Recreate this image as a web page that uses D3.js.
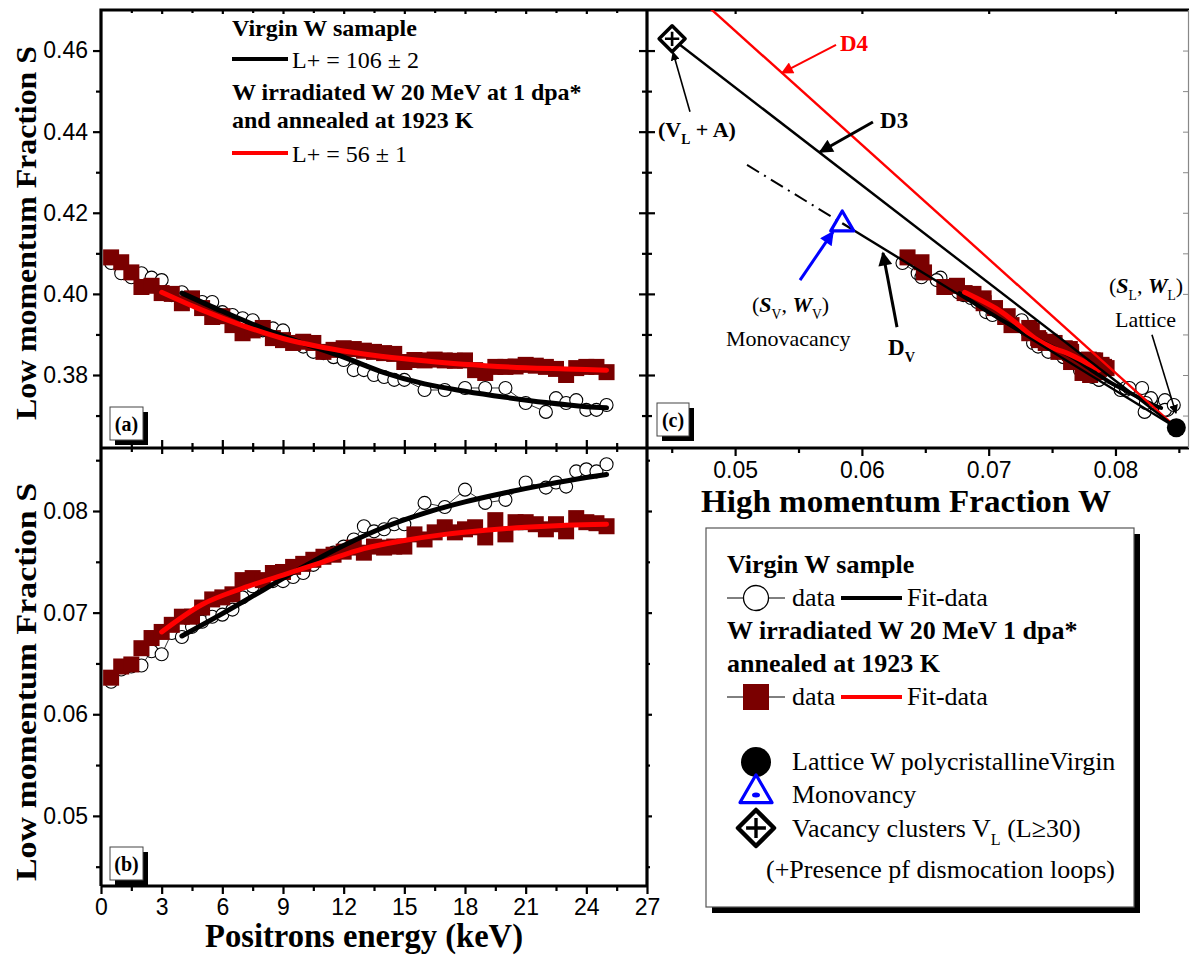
<!DOCTYPE html>
<html><head><meta charset="utf-8">
<script src="https://cdn.jsdelivr.net/npm/d3@7"></script>
<style>
body{margin:0;background:#fff}
svg{display:block}
</style></head>
<body><svg id="chart" width="1190" height="958"></svg>
<script>
// ---------------- DATA ----------------
const energyVirgin = [0.5,1,1.5,2,2.5,3,3.5,4,4.5,5,5.5,6,6.5,7,7.5,8,8.5,9,9.5,10,10.5,11,11.5,12,12.5,13,13.5,14,14.5,15,16,17,18,19,20,21,22,22.5,23,23.5,24,24.5,25];
const sVirgin = [0.4076,0.4051,0.4041,0.4051,0.4040,0.4034,0.3997,0.4004,0.3990,0.3980,0.3980,0.3955,0.3948,0.3940,0.3935,0.3910,0.3915,0.3910,0.3879,0.3870,0.3857,0.3854,0.3844,0.3837,0.3812,0.3812,0.3800,0.3795,0.3788,0.3788,0.3763,0.3763,0.3768,0.3768,0.3768,0.3731,0.3709,0.3743,0.3731,0.3738,0.3714,0.3714,0.3726];
const wVirgin = [0.0632,0.0644,0.0647,0.0648,0.0662,0.0659,0.0680,0.0676,0.0686,0.0691,0.0696,0.0698,0.0703,0.0715,0.0726,0.0730,0.0731,0.0731,0.0735,0.0739,0.0747,0.0755,0.0759,0.0765,0.0772,0.0785,0.0780,0.0782,0.0787,0.0787,0.0808,0.0804,0.0821,0.0808,0.0811,0.0828,0.0823,0.0828,0.0824,0.0839,0.0841,0.0839,0.0846];

const energyIrr = [0.5,1,1.5,2,2.5,3,3.5,4,4.5,5,5.5,6,6.5,7,7.5,8,8.5,9,9.5,10,10.5,11,11.5,12,12.5,13,13.5,14,14.5,15,15.5,16,16.5,17,17.5,18,18.5,19,19.5,20,20.5,21,21.5,22,22.5,23,23.5,24,24.5,25];
const sIrr = [0.4090,0.4078,0.4053,0.4017,0.4020,0.4002,0.4000,0.3977,0.3989,0.3965,0.3943,0.3945,0.3923,0.3903,0.3910,0.3916,0.3891,0.3886,0.3879,0.3882,0.3879,0.3857,0.3862,0.3866,0.3864,0.3860,0.3857,0.3854,0.3852,0.3832,0.3837,0.3836,0.3838,0.3836,0.3835,0.3836,0.3812,0.3805,0.3820,0.3820,0.3821,0.3825,0.3823,0.3820,0.3815,0.3800,0.3817,0.3820,0.3820,0.3807];
const wIrr = [0.0636,0.0647,0.0649,0.0665,0.0675,0.0681,0.0688,0.0696,0.0696,0.0705,0.0713,0.0715,0.0718,0.0732,0.0734,0.0732,0.0739,0.0740,0.0745,0.0748,0.0752,0.0755,0.0757,0.0760,0.0764,0.0759,0.0765,0.0764,0.0765,0.0765,0.0777,0.0772,0.0779,0.0784,0.0779,0.0782,0.0784,0.0774,0.0791,0.0777,0.0789,0.0789,0.0787,0.0782,0.0787,0.0780,0.0793,0.0789,0.0788,0.0785];

const fitEVirgin = [4,6,8,10,12,14,16,18,20,22,24,25];
const fitSVirgin = [0.4002,0.3957,0.3915,0.3878,0.3844,0.3806,0.3778,0.3760,0.3745,0.3732,0.3722,0.3719];
const fitWVirgin = [0.0677,0.0699,0.0722,0.0745,0.0766,0.0784,0.0798,0.0809,0.0818,0.0826,0.0833,0.0836];
const fitEIrr = [3,5,7,9,11,13,15,17,19,21,23,25];
const fitSIrr = [0.4004,0.3960,0.3922,0.3890,0.3868,0.3852,0.3840,0.3830,0.3823,0.3818,0.3815,0.3812];
const fitWIrr = [0.0681,0.0708,0.0724,0.0737,0.0750,0.0763,0.0771,0.0777,0.0781,0.0784,0.0786,0.0787];

// reference states in the S-W plane [W, S]
const latticePoint = [0.0848, 0.3670];
const monovacancyPoint = [0.05845, 0.4174];
const clusterPoint = [0.04503, 0.4629];
const d4FarPoint = [0.0480, 0.4705];
const dvExtensionPoint = [0.05094, 0.4318];

// ticks
const energyTicks = [0,3,6,9,12,15,18,21,24,27];
const energyMinor = [1.5,4.5,7.5,10.5,13.5,16.5,19.5,22.5,25.5];
const sTicks = [0.38,0.40,0.42,0.44,0.46];
const sMinor = [0.37,0.39,0.41,0.43,0.45];
const wTicksB = [0.05,0.06,0.07,0.08];
const wMinorB = [0.045,0.055,0.065,0.075,0.085];
const wTicksC = [0.05,0.06,0.07,0.08];
const wMinorC = [0.045,0.055,0.065,0.075,0.085];

// ---------------- LAYOUT ----------------
const serif = "'Liberation Serif','Times New Roman',serif";
const sans = "'Liberation Sans',Arial,sans-serif";
const L = 101, M = 647, R = 1189, T = 10, MID = 448, B = 886;
const darkRed = "#7a0000";

const svg = d3.select("#chart");
const xE = d3.scaleLinear([0,27],[L,M]);
const yA = d3.scaleLinear([0.362,0.47],[MID,T]);
const yB = d3.scaleLinear([0.0431,0.0862],[B,MID]);
const xW = d3.scaleLinear([0.04305,0.0858],[M,R]);
const yC = yA;

// clip paths
const defs = svg.append("defs");
function clip(id,x,y,w,h){defs.append("clipPath").attr("id",id).append("rect").attr("x",x).attr("y",y).attr("width",w).attr("height",h);}
clip("clipA",L,T,M-L,MID-T);
clip("clipB",L,MID,M-L,B-MID);
clip("clipC",M,T,R-M,MID-T);
function mk(id,color,w,h){
  defs.append("marker").attr("id",id).attr("viewBox","0 0 10 10").attr("refX",9).attr("refY",5)
    .attr("markerWidth",w).attr("markerHeight",h).attr("markerUnits","userSpaceOnUse").attr("orient","auto")
    .append("path").attr("d","M0,0 L10,5 L0,10 z").attr("fill",color);
}
mk("arrK","#000",9,9); mk("arrKbig","#000",16,14); mk("arrR","#f00",14,12); mk("arrB","#00f",16,14);

// ---------------- AXES ----------------
function axis(gen, tx, ty, values, size, fmt, pad){
  const g = svg.append("g").attr("transform",`translate(${tx},${ty})`)
    .call(gen.tickValues(values).tickSize(size).tickSizeOuter(0).tickPadding(pad||4).tickFormat(fmt||(()=>"")));
  g.select(".domain").remove();
  g.selectAll("line").attr("stroke","#000").attr("stroke-width",2.2);
  g.attr("font-family",sans).attr("font-size",23).selectAll("text").attr("fill","#000");
  return g;
}
const f2 = d3.format(".2f"), fE = d3.format("d");
const innerE = energyTicks.filter(d=>d>0&&d<27);
// panel (a)
axis(d3.axisLeft(yA),L,0,sTicks,8,f2,5);
axis(d3.axisLeft(yA),L,0,sMinor,5);
axis(d3.axisBottom(xE),0,MID,innerE,-8);
axis(d3.axisBottom(xE),0,MID,innerE,6);
axis(d3.axisBottom(xE),0,MID,energyMinor,-5);
axis(d3.axisBottom(xE),0,MID,energyMinor,4);
axis(d3.axisTop(xE),0,T,innerE,-4);
axis(d3.axisTop(xE),0,T,energyMinor,-3);
// shared vertical line between (a) and (c)
axis(d3.axisLeft(yA),M,0,sTicks,8);
axis(d3.axisLeft(yA),M,0,sTicks,-8);
axis(d3.axisLeft(yA),M,0,sMinor,5);
axis(d3.axisLeft(yA),M,0,sMinor,-5);
// panel (b)
axis(d3.axisLeft(yB),L,0,wTicksB,8,f2,5);
axis(d3.axisLeft(yB),L,0,wMinorB,5);
axis(d3.axisBottom(xE),0,B,energyTicks,8,fE,5);
axis(d3.axisBottom(xE),0,B,energyMinor,5);
axis(d3.axisRight(yB),M,0,wTicksB,5);
axis(d3.axisRight(yB),M,0,wMinorB,3);
// panel (c)
axis(d3.axisBottom(xW),0,MID,wTicksC,8,f2,6);
axis(d3.axisBottom(xW),0,MID,wMinorC,5);
axis(d3.axisTop(xW),0,T,wTicksC,-4);
const rTicks = axis(d3.axisLeft(yA),R,0,sTicks.concat(sMinor),6);
rTicks.selectAll("line").attr("stroke","#888").attr("stroke-width",1);

// frames
const frame = svg.append("g").attr("fill","none").attr("stroke","#000").attr("stroke-width",3.2);
frame.append("path").attr("d",`M${L},${B} V${T} H${R}`);
frame.append("path").attr("d",`M${L},${MID} H${R}`);
frame.append("path").attr("d",`M${M},${T} V${B}`);
frame.append("path").attr("d",`M${L},${B} H${M}`);
svg.append("path").attr("d",`M${R-0.5},${T} V${MID}`).attr("stroke","#888").attr("stroke-width",1.2);

// ---------------- MARKS ----------------
const virgin = energyVirgin.map((e,i)=>({e, s:sVirgin[i], w:wVirgin[i]}));
const irr = energyIrr.map((e,i)=>({e, s:sIrr[i], w:wIrr[i]}));
const fitV = fitEVirgin.map((e,i)=>({e, s:fitSVirgin[i], w:fitWVirgin[i]}));
const fitI = fitEIrr.map((e,i)=>({e, s:fitSIrr[i], w:fitWIrr[i]}));

function drawPanel(clipId, xf, yf){
  const g = svg.append("g").attr("clip-path",`url(#${clipId})`);
  const connect = d3.line().x(xf).y(yf);
  g.append("path").attr("d",connect(virgin)).attr("fill","none").attr("stroke","#000").attr("stroke-width",0.8);
  g.selectAll("circle.v").data(virgin).join("circle").attr("class","v")
    .attr("cx",xf).attr("cy",yf).attr("r",6.5).attr("fill","#fff").attr("stroke","#000").attr("stroke-width",1.1);
  g.selectAll("rect.i").data(irr).join("rect").attr("class","i")
    .attr("x",d=>xf(d)-8).attr("y",d=>yf(d)-8).attr("width",16).attr("height",16).attr("fill",darkRed);
  return g;
}
// (a)
const gA = drawPanel("clipA", d=>xE(d.e), d=>yA(d.s));
const lineA = d3.line().x(d=>xE(d.e)).y(d=>yA(d.s)).curve(d3.curveMonotoneX);
gA.append("path").attr("d",lineA(fitV)).attr("fill","none").attr("stroke","#000").attr("stroke-width",5).attr("stroke-linecap","round");
gA.append("path").attr("d",lineA(fitI)).attr("fill","none").attr("stroke","#f00").attr("stroke-width",5).attr("stroke-linecap","round");
// (b)
const gB = drawPanel("clipB", d=>xE(d.e), d=>yB(d.w));
const lineB = d3.line().x(d=>xE(d.e)).y(d=>yB(d.w)).curve(d3.curveMonotoneX);
gB.append("path").attr("d",lineB(fitV)).attr("fill","none").attr("stroke","#000").attr("stroke-width",5).attr("stroke-linecap","round");
gB.append("path").attr("d",lineB(fitI)).attr("fill","none").attr("stroke","#f00").attr("stroke-width",5).attr("stroke-linecap","round");
// (c)
const gC = drawPanel("clipC", d=>xW(d.w), d=>yC(d.s));
const lineC = d3.line().x(d=>xW(d.w)).y(d=>yC(d.s)).curve(d3.curveCatmullRom);
gC.append("path").attr("d",lineC(fitV)).attr("fill","none").attr("stroke","#000").attr("stroke-width",4).attr("stroke-linecap","round");
gC.append("path").attr("d",lineC(fitI)).attr("fill","none").attr("stroke","#f00").attr("stroke-width",5).attr("stroke-linecap","round");
const seg = (a,b)=>`M${xW(a[0])},${yC(a[1])} L${xW(b[0])},${yC(b[1])}`;
gC.append("path").attr("d",seg(d4FarPoint,latticePoint)).attr("stroke","#f00").attr("stroke-width",2.4);
gC.append("path").attr("d",seg(clusterPoint,latticePoint)).attr("stroke","#000").attr("stroke-width",2.4);
gC.append("path").attr("d",seg(monovacancyPoint,latticePoint)).attr("stroke","#000").attr("stroke-width",2.4);
gC.append("path").attr("d",seg(dvExtensionPoint,monovacancyPoint)).attr("stroke","#000").attr("stroke-width",2)
  .attr("stroke-dasharray","14,6,2,6");

// special markers
function latticeMarker(g,x,y,r){ g.append("circle").attr("cx",x).attr("cy",y).attr("r",r).attr("fill","#000"); }
function triMarker(g,x,y,s){
  const h = s*0.866;
  g.append("path").attr("d",`M${x},${y-h*0.62} L${x+s/2},${y+h*0.38} L${x-s/2},${y+h*0.38} Z`)
   .attr("fill","none").attr("stroke","#00f").attr("stroke-width",3.2).attr("stroke-linejoin","round");
}
function diamondMarker(g,x,y,s,sw){
  const r=s/2;
  g.append("path").attr("d",`M${x},${y-r} L${x+r},${y} L${x},${y+r} L${x-r},${y} Z`).attr("fill","#fff").attr("stroke","#000").attr("stroke-width",sw).attr("stroke-linejoin","round");
  g.append("path").attr("d",`M${x},${y-r*0.55} V${y+r*0.55} M${x-r*0.55},${y} H${x+r*0.55}`).attr("stroke","#000").attr("stroke-width",sw*0.75);
}
const gM = svg.append("g");
latticeMarker(gM,xW(latticePoint[0]),yC(latticePoint[1]),9.5);
triMarker(gM,xW(monovacancyPoint[0]),yC(monovacancyPoint[1]),23);
diamondMarker(gM,xW(clusterPoint[0]),yC(clusterPoint[1]),26,3.5);

// ---------------- TEXT ----------------
function rich(g,x,y,parts,opts){
  const t = g.append("text").attr("x",x).attr("y",y).attr("font-family",serif).attr("font-size",opts.size).attr("fill",opts.fill||"#000")
    .attr("font-weight",opts.bold?"bold":"normal");
  let shift=0;
  parts.forEach(p=>{
    const o = (typeof p==="string")?{t:p}:p;
    const sp = t.append("tspan").text(o.t);
    const target = o.sub ? opts.size*0.3 : 0;
    if(target!==shift){ sp.attr("dy",target-shift); shift=target; }
    if(o.sub) sp.attr("font-size",opts.size*0.62);
    if(o.italic) sp.attr("font-style","italic");
    if(o.bold!==undefined) sp.attr("font-weight",o.bold?"bold":"normal");
  });
  return t;
}
const gt = svg.append("g");
// panel (a) legend
rich(gt,232,36,["Virgin W samaple"],{size:24,bold:true});
gt.append("line").attr("x1",232).attr("x2",288).attr("y1",59).attr("y2",59).attr("stroke","#000").attr("stroke-width",4);
rich(gt,292,68,["L+ = 106 ± 2"],{size:24});
rich(gt,232,100,["W irradiated W 20 MeV at 1 dpa*"],{size:24,bold:true});
rich(gt,232,128,["and annealed at 1923 K"],{size:24,bold:true});
gt.append("line").attr("x1",232).attr("x2",288).attr("y1",153).attr("y2",153).attr("stroke","#f00").attr("stroke-width",4);
rich(gt,292,162,["L+ = 56 ± 1"],{size:24});

// panel boxes
function panelBox(x,y,w,h,label){
  gt.append("rect").attr("x",x+5).attr("y",y+5).attr("width",w).attr("height",h).attr("fill","#000");
  gt.append("rect").attr("x",x).attr("y",y).attr("width",w).attr("height",h).attr("fill","#fff").attr("stroke","#444").attr("stroke-width",1);
  rich(gt,x+w/2,y+h/2+7,[label],{size:20,bold:true}).attr("text-anchor","middle");
}
panelBox(110,407,33,33,"(a)");
panelBox(110,847,33,33,"(b)");
panelBox(657,403,32,33,"(c)");

// axis titles
gt.append("text").attr("transform",`translate(36,233) rotate(-90)`).attr("text-anchor","middle")
  .attr("font-family",serif).attr("font-weight","bold").attr("font-size",30)
  .attr("textLength",374).attr("lengthAdjust","spacingAndGlyphs").text("Low momentum Fraction S");
gt.append("text").attr("transform",`translate(36,682) rotate(-90)`).attr("text-anchor","middle")
  .attr("font-family",serif).attr("font-weight","bold").attr("font-size",30)
  .attr("textLength",398).attr("lengthAdjust","spacingAndGlyphs").text("Low momentum Fraction S");
gt.append("text").attr("x",364).attr("y",947).attr("text-anchor","middle")
  .attr("font-family",serif).attr("font-weight","bold").attr("font-size",33)
  .attr("textLength",318).attr("lengthAdjust","spacingAndGlyphs").text("Positrons energy (keV)");
gt.append("text").attr("x",906).attr("y",512).attr("text-anchor","middle")
  .attr("font-family",serif).attr("font-weight","bold").attr("font-size",32)
  .attr("textLength",410).attr("lengthAdjust","spacingAndGlyphs").text("High momentum Fraction W");

// annotations in (c) — anchored in the S-W data space
const P = (w,s)=>[xW(w),yC(s)];
function arrow(a,b,color,width,marker){
  gt.append("line").attr("x1",a[0]).attr("y1",a[1]).attr("x2",b[0]).attr("y2",b[1])
    .attr("stroke",color).attr("stroke-width",width).attr("marker-end",`url(#${marker})`);
}
let p;
p=P(0.05827,0.4599); rich(gt,p[0],p[1],["D4"],{size:23,bold:true,fill:"#f00"});
arrow(P(0.05796,0.4614),P(0.05370,0.4545),"#f00",2,"arrR");
p=P(0.06143,0.4409); rich(gt,p[0],p[1],["D3"],{size:23,bold:true});
arrow(P(0.06087,0.4424),P(0.05669,0.4350),"#000",3,"arrKbig");
p=P(0.04392,0.4387); rich(gt,p[0],p[1],["(V",{t:"L",sub:true}," + A)"],{size:22,bold:true});
arrow(P(0.04644,0.4449),P(0.04510,0.4596),"#000",1.6,"arrK");
p=P(0.05133,0.3955); rich(gt,p[0],p[1],["(",{t:"S",italic:true,bold:true},{t:"V",sub:true},", ",{t:"W",italic:true,bold:true},{t:"V",sub:true},")"],{size:22});
p=P(0.04928,0.3872); rich(gt,p[0],p[1],["Monovacancy"],{size:22});
arrow(P(0.05512,0.4034),P(0.05772,0.4153),"#00f",3,"arrB");
p=P(0.06206,0.3849); rich(gt,p[0],p[1],["D",{t:"V",sub:true}],{size:23,bold:true});
arrow(P(0.06277,0.3918),P(0.06166,0.4101),"#000",3,"arrKbig");
p=P(0.07949,0.4002); rich(gt,p[0],p[1],["(",{t:"S",italic:true,bold:true},{t:"L",sub:true},", ",{t:"W",italic:true,bold:true},{t:"L",sub:true},")"],{size:22});
p=P(0.07996,0.3918); rich(gt,p[0],p[1],["Lattice"],{size:22});
arrow(P(0.08288,0.3899),P(0.08477,0.3706),"#000",1.6,"arrK");

// ---------------- LEGEND BOX ----------------
const lg = svg.append("g");
lg.append("rect").attr("x",712).attr("y",534).attr("width",428).attr("height",379).attr("fill","#000");
lg.append("rect").attr("x",706).attr("y",528).attr("width",428).attr("height",379).attr("fill","#fff").attr("stroke","#555").attr("stroke-width",1.2);
rich(lg,727,573,["Virgin W sample"],{size:26,bold:true});
lg.append("line").attr("x1",727).attr("x2",785).attr("y1",598).attr("y2",598).attr("stroke","#000").attr("stroke-width",1);
lg.append("circle").attr("cx",756).attr("cy",598).attr("r",12.5).attr("fill","#fff").attr("stroke","#000").attr("stroke-width",1.3);
rich(lg,792,606,["data"],{size:26});
lg.append("line").attr("x1",841).attr("x2",902).attr("y1",598).attr("y2",598).attr("stroke","#000").attr("stroke-width",4);
rich(lg,907,606,["Fit-data"],{size:26});
rich(lg,727,639,["W irradiated W 20 MeV 1 dpa*"],{size:26,bold:true});
rich(lg,727,672,["annealed at 1923 K"],{size:26,bold:true});
lg.append("line").attr("x1",727).attr("x2",785).attr("y1",697).attr("y2",697).attr("stroke","#000").attr("stroke-width",1);
lg.append("rect").attr("x",743).attr("y",684).attr("width",26).attr("height",26).attr("fill",darkRed);
rich(lg,792,705,["data"],{size:26});
lg.append("line").attr("x1",841).attr("x2",902).attr("y1",697).attr("y2",697).attr("stroke","#f00").attr("stroke-width",4);
rich(lg,907,705,["Fit-data"],{size:26});
latticeMarker(lg,756,762,15);
rich(lg,792,770,["Lattice W polycristallineVirgin"],{size:26});
triMarker(lg,756,792,32);
lg.append("ellipse").attr("cx",756).attr("cy",795).attr("rx",4).attr("ry",2.5).attr("fill","#00f");
rich(lg,792,803,["Monovancy"],{size:26});
diamondMarker(lg,756,828,36,4.5);
rich(lg,792,837,["Vacancy clusters V",{t:"L",sub:true}," (L≥30)"],{size:26});
rich(lg,766,878,["(+Presence pf dismocation loops)"],{size:26});
</script>
</body></html>
